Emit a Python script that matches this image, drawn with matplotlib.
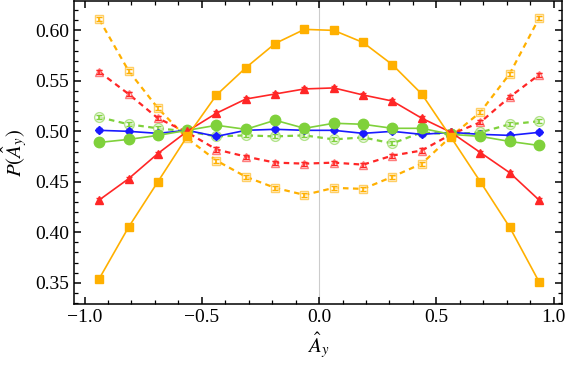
import numpy as np
import matplotlib
matplotlib.use('Agg')
import matplotlib.pyplot as plt
from matplotlib.ticker import MultipleLocator

plt.rcParams['font.family'] = ['Liberation Serif', 'DejaVu Serif']
plt.rcParams['mathtext.fontset'] = 'stix'

# bin centres
x = np.arange(-0.9375, 1.0, 0.125)

# solid curves
orange_solid = [0.354, 0.405, 0.450, 0.495, 0.536, 0.563, 0.587, 0.601,
                0.600, 0.588, 0.566, 0.537, 0.494, 0.450, 0.405, 0.351]
red_solid = [0.432, 0.453, 0.478, 0.500, 0.518, 0.532, 0.537, 0.542,
             0.543, 0.536, 0.530, 0.513, 0.499, 0.479, 0.459, 0.432]
green_solid = [0.489, 0.492, 0.496, 0.501, 0.506, 0.502, 0.511, 0.503,
               0.508, 0.507, 0.503, 0.503, 0.497, 0.495, 0.490, 0.486]
blue_solid = [0.501, 0.500, 0.498, 0.501, 0.495, 0.501, 0.502, 0.501,
              0.501, 0.498, 0.500, 0.497, 0.499, 0.497, 0.496, 0.499]

# dashed curves
orange_dash = [0.611, 0.560, 0.523, 0.493, 0.471, 0.455, 0.444, 0.437,
               0.444, 0.443, 0.455, 0.468, 0.495, 0.519, 0.557, 0.612]
red_dash = [0.559, 0.537, 0.513, 0.499, 0.482, 0.475, 0.469, 0.468,
            0.469, 0.467, 0.476, 0.481, 0.497, 0.509, 0.534, 0.556]
green_dash = [0.514, 0.507, 0.503, 0.500, 0.495, 0.496, 0.495, 0.496,
              0.492, 0.494, 0.488, 0.499, 0.497, 0.499, 0.507, 0.510]

err = 0.002

ORANGE = '#FFB000'
RED = '#FF2626'
GREEN = '#7FD13B'
BLUE = '#1A1AFF'

fig = plt.figure(figsize=(5.67, 3.68), dpi=100)
ax = fig.add_axes([0.1305, 0.174, 0.8605, 0.823])

ax.axvline(0, color='#cccccc', lw=0.8, zorder=0)

# dashed, open markers
for y, c, m, ms in [(orange_dash, ORANGE, 's', 6), (red_dash, RED, '^', 5.5),
                    (green_dash, GREEN, 'o', 7)]:
    ax.plot(x, y, ls=(0, (2.5, 2)), color=c, lw=1.6, zorder=2)
    ax.errorbar(x, y, yerr=err, fmt=m, ms=ms, mfc='white', mec=c, mew=1.0,
                alpha=0.6, ecolor=c, elinewidth=1, capsize=2.5, zorder=3)
    ax.errorbar(x, y, yerr=err, fmt='none', ecolor=c, elinewidth=1.2,
                capsize=2.5, zorder=4)

# solid, filled markers
for y, c, m, ms in [(blue_solid, BLUE, 'D', 4.5), (green_solid, GREEN, 'o', 7.5),
                    (red_solid, RED, '^', 5.5), (orange_solid, ORANGE, 's', 6)]:
    ax.errorbar(x, y, yerr=err, fmt='-' + m, color=c, ms=ms, lw=1.2,
                ecolor=c, elinewidth=1, capsize=2.5, zorder=5)

ax.set_xlim(-1.045, 1.035)
ax.set_ylim(0.329, 0.629)
ax.xaxis.set_major_locator(MultipleLocator(0.5))
ax.xaxis.set_minor_locator(MultipleLocator(0.1))
ax.yaxis.set_major_locator(MultipleLocator(0.05))
ax.yaxis.set_minor_locator(MultipleLocator(0.01))
ax.xaxis.set_major_formatter(plt.FuncFormatter(lambda v, p: f'{v:.1f}'.replace('-', '\u2212')))
ax.yaxis.set_major_formatter(plt.FuncFormatter(lambda v, p: f'{v:.2f}'))
ax.tick_params(which='both', direction='in', top=True, right=True, labelsize=14)
ax.tick_params(which='major', length=5, width=1.1)
ax.tick_params(which='minor', length=3, width=0.9)
for s in ax.spines.values():
    s.set_linewidth(1.1)

ax.set_xlabel(r'$\hat{A}_y$', fontsize=15)
ax.set_ylabel(r'$P(\hat{A}_y)$', fontsize=15)

fig.savefig('out.png', dpi=100)
